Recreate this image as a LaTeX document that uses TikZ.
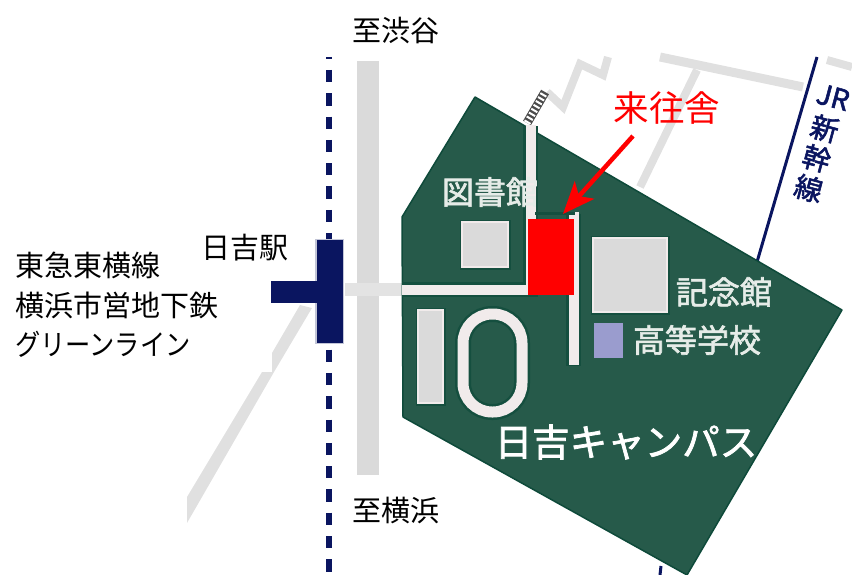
\documentclass[tikz,border=0pt]{standalone}
\usepackage{fontspec}
\setmainfont{Noto Sans CJK JP}
\newfontfamily\mapfont[FakeBold=2]{Noto Sans CJK JP}
\usetikzlibrary{arrows.meta}
\definecolor{campus}{HTML}{265A4A}
\definecolor{campusedge}{HTML}{0E4A3A}
\definecolor{roadgray}{HTML}{DADADA}
\definecolor{roadlight}{HTML}{F1EBEB}
\definecolor{navyline}{HTML}{0A1560}
\definecolor{lilac}{HTML}{9A9CCE}
\definecolor{maptext}{HTML}{E6ECE8}
\newcommand{\fs}[1]{\fontsize{#1}{#1}\selectfont}
\tikzset{
  blacklabel/.style={inner sep=0pt,text=black,font=\fs{29}},
  maplabel/.style={inner sep=0pt,text=maptext,font=\mapfont\fs{32}},
  grayroad/.style={draw=roadgray!85!white,line cap=butt,line join=miter},
  building/.style={fill=roadgray,draw=roadlight,line width=1.5pt},
  halo/.style={draw=campusedge!70!campus,line width=5pt},
  whiteroad/.style={draw=roadlight,line width=10pt},
  roadedge/.style={draw=campusedge!70!campus,line width=15pt},
}
\begin{document}
\begin{tikzpicture}[x=1pt,y=-1pt]
\useasboundingbox (0,0) rectangle (852,575);
% roads outside campus
\draw[grayroad,line width=8pt] (547,92) -- (563,107) -- (580,64) -- (603,75) -- (608,57);
\draw[grayroad,line width=8pt] (640,187) -- (697,70);
\draw[grayroad,line width=9pt] (660,57) -- (803,87);
\draw[grayroad,line width=8pt] (827,60) -- (852,67);
\fill[roadgray!85!white] (300,305) -- (312,308) -- (274,372) -- (187,523) -- (187,497) -- (262,372) -- (272,372) -- (272,353) -- cycle;
\fill[roadgray] (357,61) rectangle (379,475);
\fill[roadgray!75!white] (345,283) rectangle (402,296);
% JR line
\coordinate (jrtop) at (817,57);
\coordinate (jrbottom) at (757,262);
\draw[navyline,line width=3pt] (jrtop) -- (jrbottom);
\draw[navyline,line width=3pt] (661,566) -- (660,575);
% campus
\draw[fill=campus,draw=campusedge,line width=1.5pt,line join=round]
  (475,97) -- (842,310) -- (687,575) -- (403,417) -- (402,217) -- cycle;
% railway crossing
\draw[black!70,line width=9pt] (527,123) -- (545,92);
\draw[white,line width=7pt,dash pattern=on 2pt off 2.5pt] (527,123) -- (545,92);
% campus roads
\draw[roadedge] (402,289.5) -- (530.5,289.5) -- (530.5,126);
\draw[roadedge] (573.5,214) -- (573.5,366);
\draw[whiteroad] (402,289.5) -- (530.5,289.5) -- (530.5,125);
\draw[whiteroad] (573.5,212) -- (573.5,365);
\draw[campusedge!70!campus,line width=3pt] (535,214) -- (575,214);
% buildings
\node[building,halo,minimum width=46pt,minimum height=45pt,inner sep=0pt] (libhalo) at (485,244.5) {};
\node[building,minimum width=46pt,minimum height=45pt,inner sep=0pt] (library) at (485,244.5) {};
\node[building,halo,minimum width=74pt,minimum height=74pt,inner sep=0pt] (hallhalo) at (630,275) {};
\node[building,minimum width=74pt,minimum height=74pt,inner sep=0pt] (hall) at (630,275) {};
\node[fill=red,minimum width=46pt,minimum height=76pt,inner sep=0pt] (raiosha) at (551,257) {};
\node[fill=lilac,minimum width=29pt,minimum height=35pt,inner sep=0pt] (school) at (608.5,340.5) {};
\node[building,halo,minimum width=25pt,minimum height=93pt,inner sep=0pt] (fieldhalo) at (430.5,356.5) {};
\node[building,minimum width=25pt,minimum height=93pt,inner sep=0pt] (field) at (430.5,356.5) {};
\draw[campusedge!70!campus,line width=16pt,rounded corners=29pt] (463,314) rectangle (522,412);
\draw[roadlight,line width=11pt,rounded corners=29pt] (463,314) rectangle (522,412);
% station and subway
\coordinate (linetop) at (329,57);
\coordinate (linebottom) at (329,572);
\draw[navyline,line width=6pt,dash pattern=on 12.3pt off 11pt,dash phase=10.3pt] (linetop) -- (linebottom);
\draw[navyline!25!white,line width=2pt] (316,240) rectangle (343,343);
\node[fill=navyline,minimum width=26pt,minimum height=103pt,inner sep=0pt] (station) at (330,291.5) {};
\node[fill=navyline,minimum width=50pt,minimum height=22pt,inner sep=0pt] (stationarm) at (296,292) {};
% black labels
\node[blacklabel] (shibuya) at (396,30) {至渋谷};
\node[blacklabel] (yokohama) at (396,511) {至横浜};
\node[blacklabel] (hiyoshi) at (245,248) {日吉駅};
\node[blacklabel,anchor=west] (toyoko) at (15,265) {東急東横線};
\node[blacklabel,anchor=west] (subway) at (15,305) {横浜市営地下鉄};
\node[blacklabel,anchor=west,xscale=0.87] (green) at (15,344) {グリーンライン};
% map labels
\node[maplabel] (liblabel) at (490,192) {図書館};
\node[maplabel] (halllabel) at (724,292) {記念館};
\node[maplabel] (schoollabel) at (697,340) {高等学校};
\node[inner sep=0pt,text=white,font=\mapfont\fs{37.5}] (campuslabel) at (626,442) {日吉キャンパス};
\node[inner sep=0pt,text=navyline,align=center,rotate=-15,font=\mapfont\fs{28}] (jrlabel) at (820.5,144)
  {JR\\[5pt]新\\[3pt]幹\\[3pt]線};
% red label and arrow
\node[inner sep=0pt,text=red,font=\fs{35.5}] (raiolabel) at (667,108) {来往舎};
\coordinate (arrowstart) at (633,136);
\coordinate (arrowend) at (563,214);
\draw[red,line width=4.5pt,-{Stealth[length=32pt,width=26pt,inset=8pt]}] (arrowstart) -- (arrowend);
\end{tikzpicture}
\end{document}
